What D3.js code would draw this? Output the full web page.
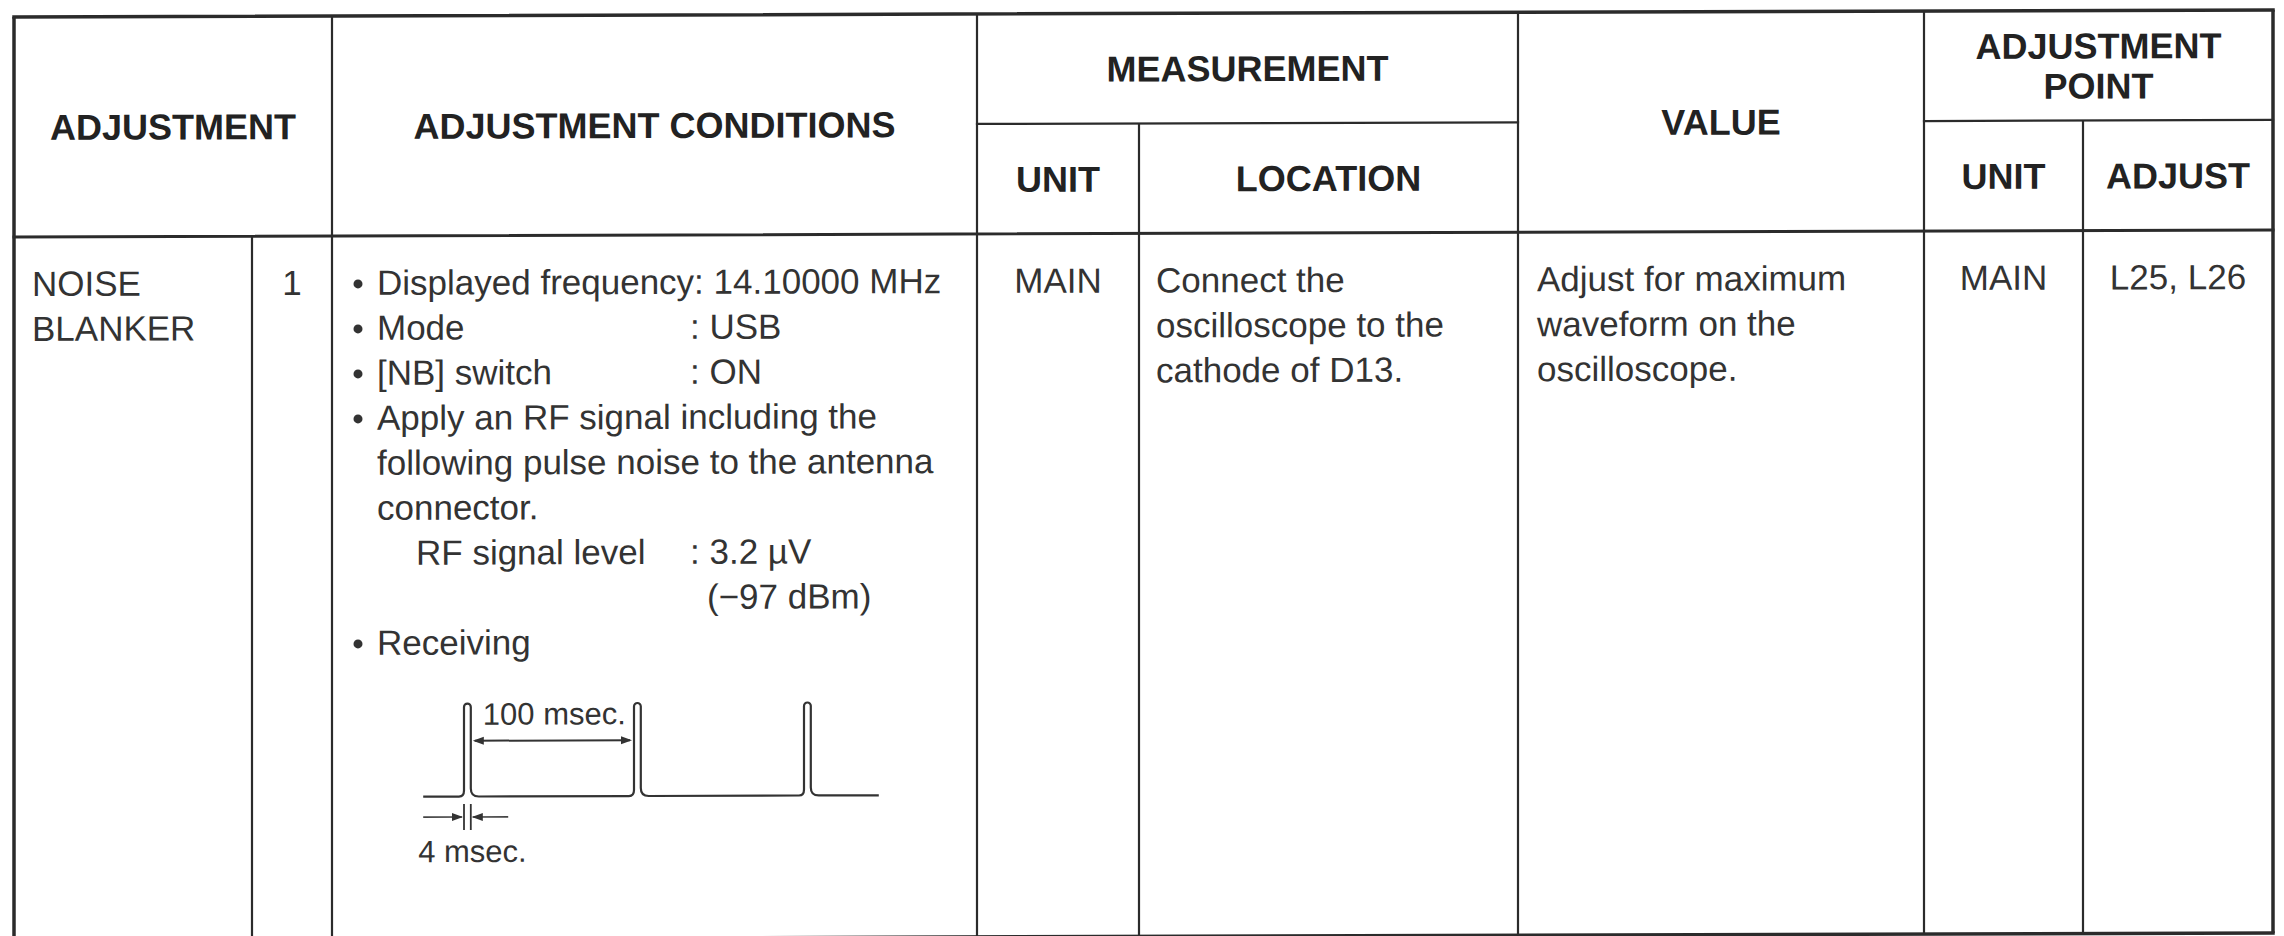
<!DOCTYPE html>
<html>
<head>
<meta charset="utf-8">
<script src="https://cdn.jsdelivr.net/npm/d3@7"></script>
<style>
  body { margin: 0; background: #fff; }
  svg { display: block; }
  .head { font-family: 'Liberation Sans', Arial, sans-serif; font-weight: bold; font-size: 36px; fill: #222; }
  .cell { font-family: 'Liberation Sans', Arial, sans-serif; font-size: 35px; fill: #333; }
  .wave { font-family: 'Liberation Sans', Arial, sans-serif; font-size: 31px; fill: #333; }
</style>
</head>
<body>
<svg width="2284" height="936"></svg>
<script>
// header labels
var headerTop = ['ADJUSTMENT', 'ADJUSTMENT CONDITIONS', 'MEASUREMENT', 'VALUE', 'ADJUSTMENT|POINT'];
var headerSub = ['UNIT', 'LOCATION', 'UNIT', 'ADJUST'];

// row contents
var adjustmentName = ['NOISE', 'BLANKER'];
var adjustmentStep = '1';
var conditions = [
    { bullet: true, text: 'Displayed frequency: 14.10000 MHz' },
    { bullet: true, text: 'Mode', value: ': USB' },
    { bullet: true, text: '[NB] switch', value: ': ON' },
    { bullet: true, text: 'Apply an RF signal including the' },
    { text: 'following pulse noise to the antenna' },
    { text: 'connector.' },
    { indent: true, text: 'RF signal level', value: ': 3.2 µV' },
    { value: '(−97 dBm)' },
    { bullet: true, text: 'Receiving' }
];
var measUnit = 'MAIN';
var measLocation = ['Connect the', 'oscilloscope to the', 'cathode of D13.'];
var valueText = ['Adjust for maximum', 'waveform on the', 'oscilloscope.'];
var adjUnit = 'MAIN';
var adjPoint = 'L25, L26';

// pulse noise waveform (msec)
var pulseTimes = [0, 100, 200];
var pulseWidth = 4;
var timeSpan = [-24, 244];
var periodLabel = '100 msec.';
var widthLabel = '4 msec.';

// layout
var colX = [14, 252, 332, 977, 1139, 1518, 1924, 2083, 2273];
var rowTop = 17, rowMid = 127, rowHead = 237, rowBottom = 940;
var lineY0 = 296, lineStep = 45;
var ink = '#2b2b2b';

var svg = d3.select('svg');
svg.append('rect').attr('width', 2284).attr('height', 936).attr('fill', '#fff');

// scan is a little tilted
var g = svg.append('g').attr('transform', 'skewY(-0.1775)');

// grid lines
var hLines = [
    { x0: 0, x1: 8, y: rowTop, w: 3.5 },
    { x0: 0, x1: 8, y: rowHead, w: 3 },
    { x0: 3, x1: 5, y: rowMid, w: 2.2 },
    { x0: 6, x1: 8, y: rowMid, w: 2.2 },
    { x0: 0, x1: 8, y: rowBottom, w: 3.5 }
];
var vLines = [
    { c: 0, y0: rowTop, w: 3.5 },
    { c: 1, y0: rowHead, w: 2.2 },
    { c: 2, y0: rowTop, w: 2.2 },
    { c: 3, y0: rowTop, w: 2.2 },
    { c: 4, y0: rowMid, w: 2.2 },
    { c: 5, y0: rowTop, w: 2.2 },
    { c: 6, y0: rowTop, w: 2.2 },
    { c: 7, y0: rowMid, w: 2.2 },
    { c: 8, y0: rowTop, w: 3.5 }
];

g.selectAll('.hl').data(hLines).join('line')
    .attr('x1', function(d) { return colX[d.x0]; })
    .attr('x2', function(d) { return colX[d.x1]; })
    .attr('y1', function(d) { return d.y; })
    .attr('y2', function(d) { return d.y; })
    .attr('stroke', ink)
    .attr('stroke-width', function(d) { return d.w; })
    .attr('stroke-linecap', 'square');

g.selectAll('.vl').data(vLines).join('line')
    .attr('x1', function(d) { return colX[d.c]; })
    .attr('x2', function(d) { return colX[d.c]; })
    .attr('y1', function(d) { return d.y0; })
    .attr('y2', rowBottom)
    .attr('stroke', ink)
    .attr('stroke-width', function(d) { return d.w; });

// header text
var capHalf = 13;
var headCells = [
    { label: headerTop[0], c0: 0, c1: 2, y0: rowTop, y1: rowHead },
    { label: headerTop[1], c0: 2, c1: 3, y0: rowTop, y1: rowHead },
    { label: headerTop[2], c0: 3, c1: 5, y0: rowTop, y1: rowMid },
    { label: headerSub[0], c0: 3, c1: 4, y0: rowMid, y1: rowHead },
    { label: headerSub[1], c0: 4, c1: 5, y0: rowMid, y1: rowHead },
    { label: headerTop[3], c0: 5, c1: 6, y0: rowTop, y1: rowHead },
    { label: headerTop[4], c0: 6, c1: 8, y0: rowTop, y1: rowMid },
    { label: headerSub[2], c0: 6, c1: 7, y0: rowMid, y1: rowHead },
    { label: headerSub[3], c0: 7, c1: 8, y0: rowMid, y1: rowHead }
];
headCells.forEach(function(d) {
    var parts = d.label.split('|');
    var cx = (colX[d.c0] + colX[d.c1]) / 2;
    var cy = (d.y0 + d.y1) / 2;
    parts.forEach(function(p, i) {
        g.append('text').attr('class', 'head')
            .attr('x', cx)
            .attr('y', cy + capHalf + (i - (parts.length - 1) / 2) * 40)
            .attr('text-anchor', 'middle')
            .text(p);
    });
});

// body text
function rowY(i) { return lineY0 + i * lineStep; }

g.selectAll('.name').data(adjustmentName).join('text').attr('class', 'cell')
    .attr('x', colX[0] + 18).attr('y', function(d, i) { return rowY(i); })
    .text(function(d) { return d; });

g.append('text').attr('class', 'cell')
    .attr('x', (colX[1] + colX[2]) / 2).attr('y', rowY(0))
    .attr('text-anchor', 'middle').text(adjustmentStep);

var condX = colX[2] + 45, valueX = 690;
conditions.forEach(function(d, i) {
    var yy = rowY(i);
    if (d.bullet) {
        g.append('circle').attr('cx', colX[2] + 26).attr('cy', yy - 11).attr('r', 4.5).attr('fill', '#333');
    }
    if (d.text) {
        g.append('text').attr('class', 'cell')
            .attr('x', condX + (d.indent ? 39 : 0)).attr('y', yy).text(d.text);
    }
    if (d.value) {
        g.append('text').attr('class', 'cell')
            .attr('x', d.value[0] === ':' ? valueX : valueX + 17).attr('y', yy).text(d.value);
    }
});

g.append('text').attr('class', 'cell')
    .attr('x', (colX[3] + colX[4]) / 2).attr('y', rowY(0))
    .attr('text-anchor', 'middle').text(measUnit);

g.selectAll('.loc').data(measLocation).join('text').attr('class', 'cell')
    .attr('x', colX[4] + 17).attr('y', function(d, i) { return rowY(i); })
    .text(function(d) { return d; });

g.selectAll('.val').data(valueText).join('text').attr('class', 'cell')
    .attr('x', colX[5] + 19).attr('y', function(d, i) { return rowY(i); })
    .text(function(d) { return d; });

g.append('text').attr('class', 'cell')
    .attr('x', (colX[6] + colX[7]) / 2).attr('y', rowY(0))
    .attr('text-anchor', 'middle').text(adjUnit);

g.append('text').attr('class', 'cell')
    .attr('x', (colX[7] + colX[8]) / 2).attr('y', rowY(0))
    .attr('text-anchor', 'middle').text(adjPoint);

// waveform
var xT = d3.scaleLinear().domain([0, 100]).range([464, 634]);
var yL = d3.scaleLinear().domain([0, 1]).range([798, 705]);

var p = d3.path();
p.moveTo(xT(timeSpan[0]), yL(0));
pulseTimes.forEach(function(t) {
    var a = xT(t), b = xT(t + pulseWidth), r = (b - a) / 2;
    p.lineTo(a - 5, yL(0));
    p.quadraticCurveTo(a, yL(0), a, yL(0) - 6);
    p.lineTo(a, yL(1) + r);
    p.arc(a + r, yL(1) + r, r, Math.PI, 2 * Math.PI);
    p.lineTo(b, yL(0) - 8);
    p.quadraticCurveTo(b, yL(0), b + 8, yL(0));
});
p.lineTo(xT(timeSpan[1]), yL(0));

g.append('path').attr('d', p.toString())
    .attr('fill', 'none').attr('stroke', '#333').attr('stroke-width', 2.2);

function arrowHead(tip, yy, dir) {
    var h = d3.path();
    h.moveTo(tip, yy);
    h.lineTo(tip - dir * 11, yy - 4);
    h.lineTo(tip - dir * 11, yy + 4);
    h.closePath();
    g.append('path').attr('d', h.toString()).attr('fill', '#333');
}

// period arrow
var ya = yL(0.6);
g.append('line')
    .attr('x1', xT(pulseTimes[0] + pulseWidth) + 4).attr('x2', xT(pulseTimes[1]) - 4)
    .attr('y1', ya).attr('y2', ya)
    .attr('stroke', '#333').attr('stroke-width', 2);
arrowHead(xT(pulseTimes[0] + pulseWidth) + 2, ya, -1);
arrowHead(xT(pulseTimes[1]) - 2, ya, 1);
g.append('text').attr('class', 'wave')
    .attr('x', xT(pulseTimes[0] + pulseWidth) + 12).attr('y', ya - 16)
    .text(periodLabel);

// width marker
var yw = yL(-0.22);
g.append('line')
    .attr('x1', xT(timeSpan[0])).attr('x2', xT(pulseTimes[0]) - 2)
    .attr('y1', yw).attr('y2', yw)
    .attr('stroke', '#444').attr('stroke-width', 1.6);
g.append('line')
    .attr('x1', xT(pulseTimes[0] + pulseWidth) + 2).attr('x2', xT(pulseTimes[0] + 26))
    .attr('y1', yw).attr('y2', yw)
    .attr('stroke', '#444').attr('stroke-width', 1.6);
arrowHead(xT(pulseTimes[0]) - 1, yw, 1);
arrowHead(xT(pulseTimes[0] + pulseWidth) + 1, yw, -1);
[pulseTimes[0], pulseTimes[0] + pulseWidth].forEach(function(t) {
    g.append('line')
        .attr('x1', xT(t)).attr('x2', xT(t))
        .attr('y1', yw - 13).attr('y2', yw + 13)
        .attr('stroke', '#333').attr('stroke-width', 1.8);
});
g.append('text').attr('class', 'wave')
    .attr('x', xT(timeSpan[0]) - 5).attr('y', yw + 45)
    .text(widthLabel);
</script>
</body>
</html>
